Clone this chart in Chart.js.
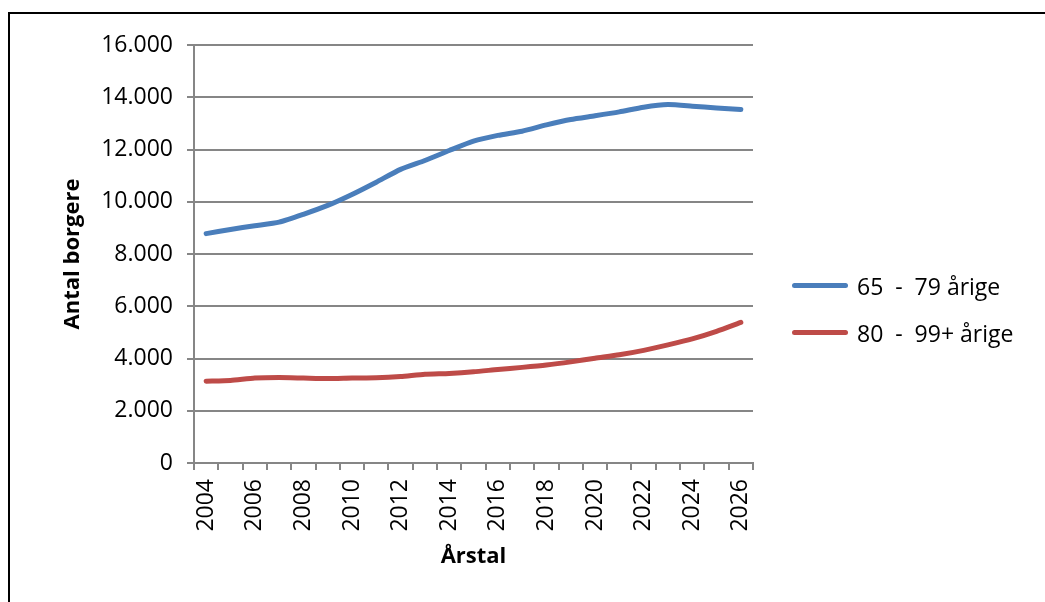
<!DOCTYPE html>
<html>
<head>
<meta charset="utf-8">
<script src="https://cdn.jsdelivr.net/npm/chart.js@4.4.0/dist/chart.umd.min.js"></script>
<style>
html, body { margin: 0; padding: 0; background: #fff; }
#wrap { position: relative; width: 1045px; height: 602px; overflow: hidden; }
#ramme { position: absolute; left: 8px; top: 12px; width: 1040px; height: 600px;
         border-top: 2px solid #000; border-left: 2px solid #000; }
#graf { position: absolute; left: 0; top: 0; }
#legende { position: absolute; left: 792px; top: 262px; font-family: 'Open Sans'; font-size: 23px; color: #000; }
.raekke { display: flex; align-items: center; height: 47px; white-space: pre; }
.streg { width: 56px; height: 5px; border-radius: 3px; margin-right: 9px; }
</style>
</head>
<body>
<div id="wrap">
  <div id="ramme"></div>
  <canvas id="graf" width="1045" height="602"></canvas>
  <div id="legende"></div>
</div>
<script>
// data
var aar = ['2004', '2005', '2006', '2007', '2008', '2009', '2010', '2011', '2012', '2013', '2014', '2015',
           '2016', '2017', '2018', '2019', '2020', '2021', '2022', '2023', '2024', '2025', '2026'];
var aarige65 = [8780, 8940, 9080, 9220, 9520, 9860, 10280, 10750, 11240, 11580, 11960, 12320,
                12540, 12700, 12940, 13150, 13290, 13440, 13620, 13720, 13660, 13590, 13530];
var aarige80 = [3130, 3160, 3250, 3270, 3250, 3230, 3250, 3260, 3310, 3400, 3430, 3490,
                3580, 3660, 3750, 3870, 4010, 4140, 4310, 4520, 4750, 5040, 5380];
var serieNavne = ['65  -  79 årige', '80  -  99+ årige'];
var farver = ['#4A7EBB', '#BE4B48'];
var yMin = 0, yMax = 16000, yTrin = 2000;

var skrift = 'Open Sans';
var graa = '#868686';

function tusind(v) {
    return v.toString().replace(/\B(?=(\d{3})+(?!\d))/g, '.');
}

var ctx = document.getElementById('graf').getContext('2d');

var graf = new Chart(ctx, {
    type: 'line',
    data: {
        labels: aar,
        datasets: [{
            label: serieNavne[0],
            data: aarige65,
            borderColor: farver[0],
            backgroundColor: farver[0]
        }, {
            label: serieNavne[1],
            data: aarige80,
            borderColor: farver[1],
            backgroundColor: farver[1]
        }]
    },
    options: {
        responsive: false,
        animation: false,
        devicePixelRatio: 1,
        layout: { padding: { top: 45, right: 292, left: 0, bottom: 0 } },
        elements: {
            point: { radius: 0 },
            line: { borderWidth: 5, tension: 0.2, borderCapStyle: 'round', borderJoinStyle: 'round' }
        },
        plugins: {
            legend: { display: false },
            tooltip: { enabled: false }
        },
        scales: {
            x: {
                offset: true,
                grid: { offset: true, drawOnChartArea: false, drawTicks: true, tickLength: 7, color: graa, lineWidth: 2 },
                border: { color: graa, width: 2 },
                ticks: {
                    autoSkip: false, maxRotation: 90, minRotation: 90, padding: 9,
                    color: '#000', font: { family: skrift, size: 23 },
                    callback: function (v, i) { return i % 2 === 0 ? this.getLabelForValue(v) : ''; }
                },
                title: {
                    display: true, text: 'Årstal', color: '#000',
                    font: { family: skrift, size: 22, weight: 'bold' },
                    padding: { top: 0, bottom: 32 }
                },
                afterFit: function (s) { s.height = 139; }
            },
            y: {
                min: yMin,
                max: yMax,
                grid: { color: graa, lineWidth: 2, tickLength: 7 },
                border: { color: graa, width: 2 },
                ticks: {
                    stepSize: yTrin, padding: 14, color: '#000',
                    font: { family: skrift, size: 23 },
                    callback: function (v) { return tusind(v); }
                },
                title: {
                    display: true, text: 'Antal borgere', color: '#000',
                    font: { family: skrift, size: 22, weight: 'bold' },
                    padding: { top: 60, bottom: 0 }
                },
                afterFit: function (s) { s.width = 194; }
            }
        }
    }
});

// forklaring til højre
var legende = document.getElementById('legende');
graf.data.datasets.forEach(function (ds) {
    var r = document.createElement('div');
    r.className = 'raekke';
    var s = document.createElement('span');
    s.className = 'streg';
    s.style.background = ds.borderColor;
    var t = document.createElement('span');
    t.textContent = ds.label;
    r.appendChild(s);
    r.appendChild(t);
    legende.appendChild(r);
});
</script>
</body>
</html>
